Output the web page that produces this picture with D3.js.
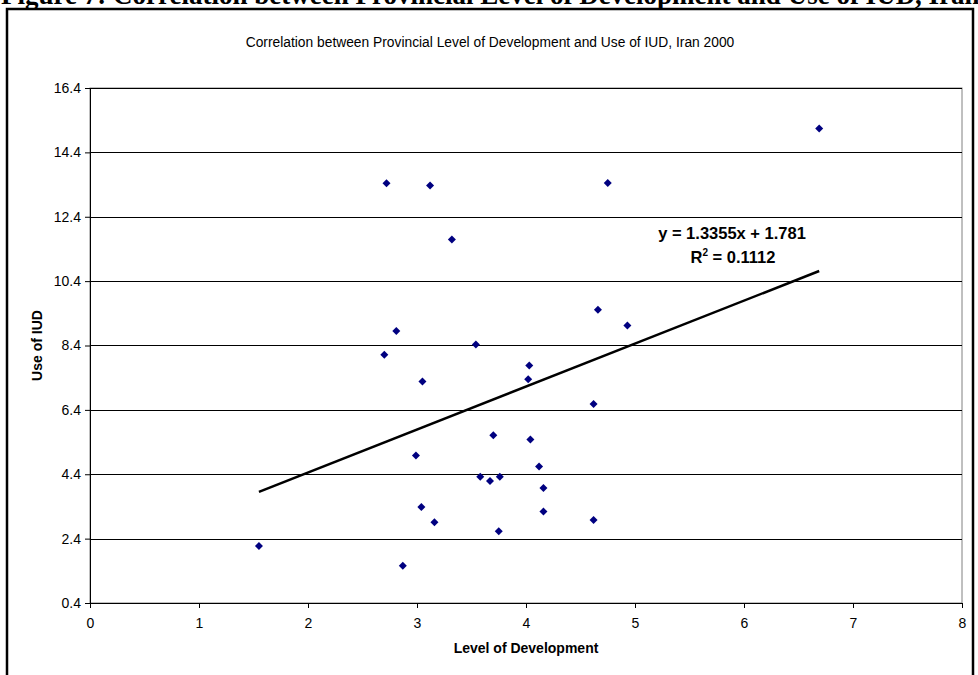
<!DOCTYPE html>
<html>
<head>
<meta charset="utf-8">
<script src="https://cdn.jsdelivr.net/npm/d3@7"></script>
<style>
  body { margin: 0; background: #fff; }
  svg { display: block; font-family: Arial, "Liberation Sans", sans-serif; }
</style>
</head>
<body>
<div id="chart"></div>
<script>
// values
var devLevel = [2.72, 3.12, 3.32, 2.81, 3.54, 2.70, 3.05, 4.03, 4.02, 3.70,
                4.04, 2.99, 4.12, 3.58, 3.67, 3.76, 4.16, 3.04, 3.16, 4.16,
                3.75, 1.55, 2.87, 6.69, 4.75, 4.66, 4.93, 4.62, 4.62];
var iudUse   = [13.44, 13.37, 11.69, 8.85, 8.43, 8.11, 7.28, 7.78, 7.35, 5.61,
                5.48, 4.98, 4.64, 4.32, 4.19, 4.32, 3.97, 3.38, 2.91, 3.24,
                2.63, 2.17, 1.56, 15.14, 13.45, 9.51, 9.02, 6.58, 2.98];
var xTicks = [0, 1, 2, 3, 4, 5, 6, 7, 8];
var yTicks = [0.4, 2.4, 4.4, 6.4, 8.4, 10.4, 12.4, 14.4, 16.4];
var slope = 1.3355, intercept = 1.781, rSquared = "0.1112";

var data = devLevel.map(function(d, i) { return {x: d, y: iudUse[i]}; });

var margin = {top: 88, right: 16, bottom: 72, left: 90},
    width = 962 - margin.left,
    height = 603 - margin.top;

var svg = d3.select("#chart")
  .append("svg")
    .attr("width", 978)
    .attr("height", 675);

// page caption, clipped at the top like the scan
svg.append("text")
    .attr("x", 1)
    .attr("y", 4)
    .text("Figure 7: Correlation between Provincial Level of Development and Use of IUD, Iran 2000")
    .style("font-family", "'Liberation Serif', 'Times New Roman', serif")
    .style("font-weight", "bold")
    .style("font-size", "27px");

// chart frame
svg.append("rect")
    .attr("x", 7)
    .attr("y", 9)
    .attr("width", 966)
    .attr("height", 700)
    .attr("fill", "none")
    .attr("stroke", "#000")
    .attr("stroke-width", 2.5);

svg.append("text")
    .attr("x", 490)
    .attr("y", 47)
    .attr("text-anchor", "middle")
    .text("Correlation between Provincial Level of Development and Use of IUD, Iran 2000")
    .style("font-size", "13.8px");

var g = svg.append("g")
    .attr("transform", "translate(" + margin.left + "," + margin.top + ")");

var x = d3.scaleLinear()
  .domain([0, 8])
  .range([0, width]);

var y = d3.scaleLinear()
  .domain([0.4, 16.4])
  .range([height, 0]);

// plot area border (grey)
g.append("rect")
    .attr("width", width)
    .attr("height", height)
    .attr("fill", "none")
    .attr("stroke", "#808080")
    .attr("stroke-width", 1);

// gridlines
g.selectAll("grid")
  .data(yTicks.slice(1))
  .enter().append("line")
    .attr("x1", 0)
    .attr("x2", width)
    .attr("y1", function(d) { return Math.round(y(d)) + 0.5; })
    .attr("y2", function(d) { return Math.round(y(d)) + 0.5; })
    .attr("stroke", "#000")
    .attr("stroke-width", 1);

// axes
var xAxis = g.append("g")
    .attr("transform", "translate(0," + height + ")")
    .call(d3.axisBottom(x).tickValues(xTicks).tickSize(5).tickSizeOuter(0).tickFormat(d3.format("d")));
var yAxis = g.append("g")
    .call(d3.axisLeft(y).tickValues(yTicks).tickSize(5).tickSizeOuter(0).tickFormat(d3.format(".1f")));

[xAxis, yAxis].forEach(function(a) {
  a.select(".domain").attr("stroke", "#000");
  a.selectAll("line").attr("stroke", "#000");
  a.selectAll("text")
    .attr("fill", "#000")
    .style("font-size", "14px")
    .style("font-family", "Arial, 'Liberation Sans', sans-serif");
});
xAxis.selectAll("text").attr("dy", "1.2em");
yAxis.selectAll("text").attr("x", -9);

// trend line over the data range
var xr = d3.extent(data, function(d) { return d.x; });
g.append("line")
    .attr("x1", x(xr[0]))
    .attr("y1", y(slope * xr[0] + intercept))
    .attr("x2", x(xr[1]))
    .attr("y2", y(slope * xr[1] + intercept))
    .attr("stroke", "#000")
    .attr("stroke-width", 2.5);

// markers
g.selectAll("dot")
  .data(data)
  .enter().append("path")
    .attr("d", d3.symbol().type(d3.symbolSquare).size(32))
    .attr("transform", function(d) { return "translate(" + x(d.x) + "," + y(d.y) + ") rotate(45)"; })
    .attr("fill", "#000080");

// equation label
var eq = g.append("text")
    .attr("x", 642)
    .attr("y", 151)
    .attr("text-anchor", "middle")
    .style("font-size", "16.5px")
    .style("font-weight", "bold");
eq.append("tspan").text("y = " + slope + "x + " + intercept);
var r2 = g.append("text")
    .attr("x", 643)
    .attr("y", 175)
    .attr("text-anchor", "middle")
    .style("font-size", "16.5px")
    .style("font-weight", "bold");
r2.append("tspan").text("R");
r2.append("tspan").text("2").attr("dy", -7).style("font-size", "10px");
r2.append("tspan").text(" = " + rSquared).attr("dy", 7);

// axis titles
svg.append("text")
    .attr("x", 526)
    .attr("y", 653)
    .attr("text-anchor", "middle")
    .text("Level of Development")
    .style("font-size", "14px")
    .style("font-weight", "bold");

svg.append("text")
    .attr("transform", "translate(42," + (margin.top + height / 2) + ") rotate(-90)")
    .attr("text-anchor", "middle")
    .text("Use of IUD")
    .style("font-size", "14px")
    .style("font-weight", "bold");
</script>
</body>
</html>
